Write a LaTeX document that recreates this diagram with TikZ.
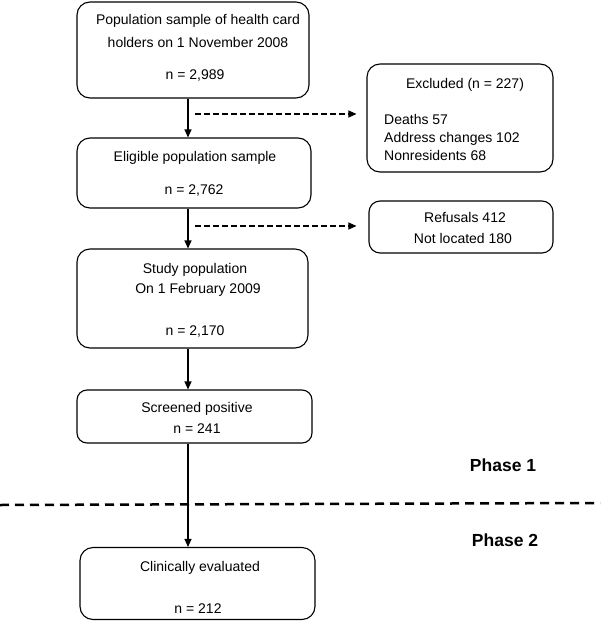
\documentclass[tikz,border=0pt]{standalone}
\usepackage{fontspec}
\setmainfont{Liberation Sans}
\usetikzlibrary{arrows.meta}
\begin{document}
\begin{tikzpicture}[x=1pt,y=-1pt,
  box/.style={draw=black, line width=1.1pt, rounded corners=13pt, inner sep=0pt},
  txt/.style={anchor=base, inner sep=0pt, font=\fontsize{14}{16}\selectfont},
  ltxt/.style={txt, anchor=base west},
  phase/.style={anchor=base, inner sep=0pt, font=\fontsize{17.5}{20}\selectfont\bfseries},
  arr/.style={line width=1.1pt, -{Triangle[length=8pt,width=7pt]}},
  darr/.style={arr, dash pattern=on 6pt off 3pt},
]
\useasboundingbox (0,0) rectangle (600,621);

% boxes
\node[box, minimum width=232pt, minimum height=96pt] (b1) at (193,50) {};
\node[box, minimum width=234pt, minimum height=70pt] (b2) at (194,173) {};
\node[box, minimum width=231pt, minimum height=99pt] (b3) at (192.5,298.5) {};
\node[box, minimum width=235pt, minimum height=53pt, rounded corners=10pt] (b4) at (194.5,416.5) {};
\node[box, minimum width=235pt, minimum height=72pt] (b5) at (197.5,583.5) {};
\node[box, minimum width=186pt, minimum height=108pt] (ex) at (460,118) {};
\node[box, minimum width=184pt, minimum height=52pt, rounded corners=11pt] (rf) at (461,227) {};

% texts
\node[txt] (t1a) at (198,24) {Population sample of health card};
\node[txt] (t1b) at (198,47) {holders on 1 November 2008};
\node[txt] (t1c) at (195,79) {n = 2,989};
\node[txt] (t2a) at (195,161) {Eligible population sample};
\node[txt] (t2b) at (194,194) {n = 2,762};
\node[txt] (t3a) at (195,273) {Study population};
\node[txt] (t3b) at (198,293) {On 1 February 2009};
\node[txt] (t3c) at (195,335) {n = 2,170};
\node[txt] (t4a) at (197,412) {Screened positive};
\node[txt] (t4b) at (197,433) {n = 241};
\node[txt] (t5a) at (200,571) {Clinically evaluated};
\node[txt] (t5b) at (198,613) {n = 212};
\node[txt] (exa) at (465,88) {Excluded (n = 227)};
\node[ltxt] (exb) at (384,124) {Deaths 57};
\node[ltxt] (exc) at (384,142) {Address changes 102};
\node[ltxt] (exd) at (384,160) {Nonresidents 68};
\node[txt] (rfa) at (465,222) {Refusals 412};
\node[txt] (rfb) at (463,243) {Not located 180};
\node[phase] (p1) at (503,471) {Phase 1};
\node[phase] (p2) at (505,546) {Phase 2};

% vertical arrows
\coordinate (ax) at (188,0);
\draw[arr] (b1.south -| ax) -- (b2.north -| ax);
\draw[arr] (b2.south -| ax) -- (b3.north -| ax);
\draw[arr] (b3.south -| ax) -- (b4.north -| ax);
\draw[arr] (b4.south -| ax) -- (b5.north -| ax);

% dashed arrows
\coordinate (d1) at (195,114);
\coordinate (d2) at (195,226);
\draw[darr, shorten >=10pt] (d1) -- (d1 -| ex.west);
\draw[darr, shorten >=12pt] (d2) -- (d2 -| rf.west);

% phase divider
\coordinate (pl) at (0,505);
\coordinate (pr) at (600,503);
\draw[line width=2.5pt, dash pattern=on 9pt off 6pt] (pl) -- (pr);
\end{tikzpicture}
\end{document}
